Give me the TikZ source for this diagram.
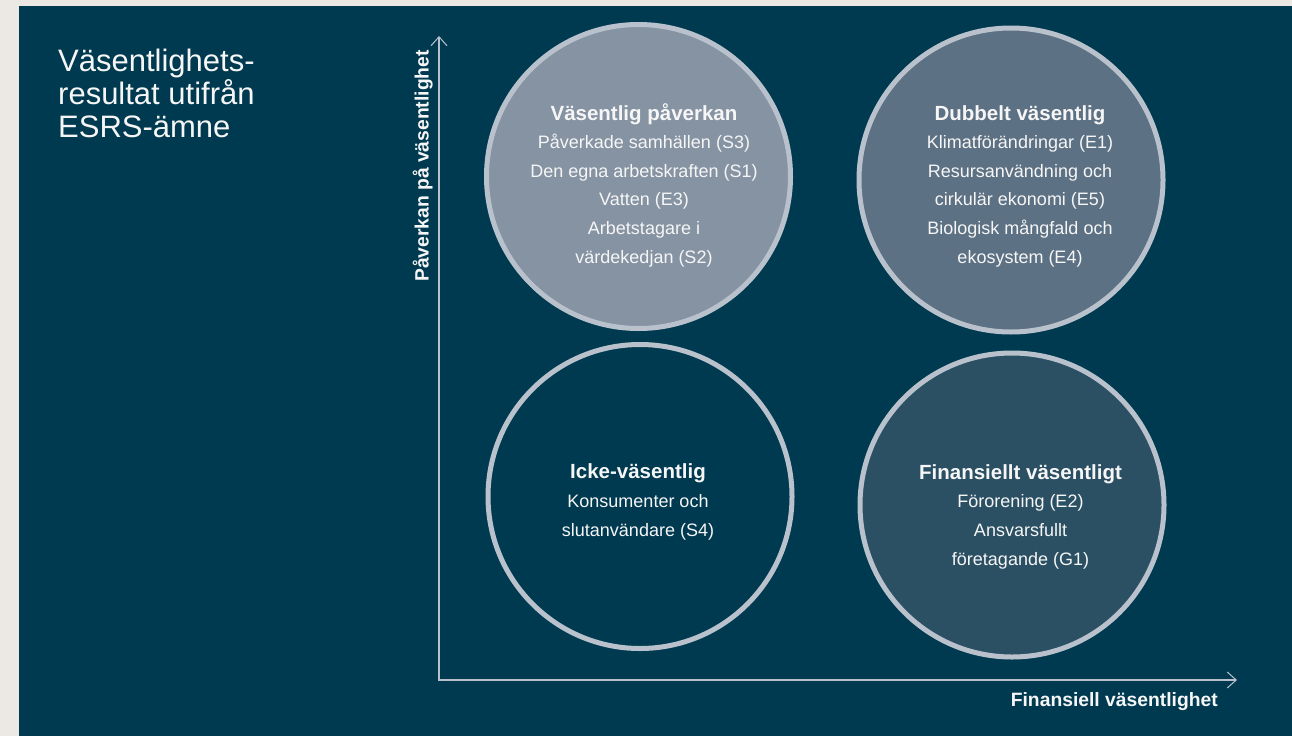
\documentclass[tikz,border=0pt]{standalone}
\usepackage{fontspec}
\setmainfont{Liberation Sans}
\usetikzlibrary{arrows.meta}

\definecolor{pagebeige}{RGB}{236,233,229}
\definecolor{bgnavy}{RGB}{0,58,80}
\definecolor{ringgray}{RGB}{185,194,204}
\definecolor{fillimpact}{RGB}{134,147,163}
\definecolor{filldouble}{RGB}{93,113,132}
\definecolor{fillfinance}{RGB}{43,80,100}
\definecolor{textwhite}{RGB}{246,246,246}

\tikzset{
  bubble/.style={circle, draw=ringgray, line width=5pt, minimum size=304pt, inner sep=0pt},
  bubbletext/.style={text=textwhite, align=center, inner sep=0pt, font=\fontsize{18}{28.6}\selectfont},
  axisline/.style={draw=ringgray, line width=1.4pt},
  axislabel/.style={text=textwhite, inner sep=0pt, font=\fontsize{19.3}{23}\selectfont\bfseries},
  titletext/.style={text=textwhite, align=left, inner sep=0pt, font=\fontsize{31}{33}\selectfont}
}
\newcommand{\headline}[1]{{\fontsize{20.5}{28.6}\selectfont\bfseries #1}}

\begin{document}
\begin{tikzpicture}[x=1pt,y=1pt,yscale=-1,xscale=1]
\useasboundingbox (0,0) rectangle (1292,736);

%Background
\fill[pagebeige] (0,0) rectangle (1292,736);
\fill[bgnavy] (19,6) rectangle (1292,736);

% Text Node (anchored on the last line)
\node[titletext, anchor=base west] (title) at (58,137) {Väsentlighets-\\resultat utifrån\\ESRS-ämne};

%Shape: Circle
\node[bubble, fill=fillimpact] (impact) at (638.5,176.5) {};
%Shape: Circle
\node[bubble, fill=filldouble] (double) at (1011,180) {};
%Shape: Circle
\node[bubble] (none) at (640,496.5) {};
%Shape: Circle
\node[bubble, fill=fillfinance] (finance) at (1012,505) {};

% Text Node
\node[bubbletext, anchor=base] (impacttext) at (644,263) {\headline{Väsentlig påverkan}\\Påverkade samhällen (S3)\\Den egna arbetskraften (S1)\\Vatten (E3)\\Arbetstagare i\\värdekedjan (S2)};
% Text Node
\node[bubbletext, anchor=base] (doubletext) at (1020,263) {\headline{Dubbelt väsentlig}\\Klimatförändringar (E1)\\Resursanvändning och\\cirkulär ekonomi (E5)\\Biologisk mångfald och\\ekosystem (E4)};
% Text Node
\node[bubbletext, anchor=base] (nonetext) at (638,536) {\headline{Icke-väsentlig}\\Konsumenter och\\slutanvändare (S4)};
% Text Node
\node[bubbletext, anchor=base] (financetext) at (1020.5,565) {\headline{Finansiellt väsentligt}\\Förorening (E2)\\Ansvarsfullt\\företagande (G1)};

%Axes
\coordinate (origin) at (439,680);
\coordinate (ytip) at (439,36);
\coordinate (xtip) at (1237,680);
\draw[axisline, {Straight Barb[length=9pt,width=16pt,line width=1pt]}-{Straight Barb[length=9pt,width=16pt,line width=1pt]}] (ytip) -- (origin) -- (xtip);

% Text Node
\node[axislabel, rotate=90, anchor=base] (ylabel) at (428.5,166) {Påverkan på väsentlighet};
% Text Node
\node[axislabel, anchor=base east] (xlabel) at (1218,706.5) {Finansiell väsentlighet};

\end{tikzpicture}
\end{document}
